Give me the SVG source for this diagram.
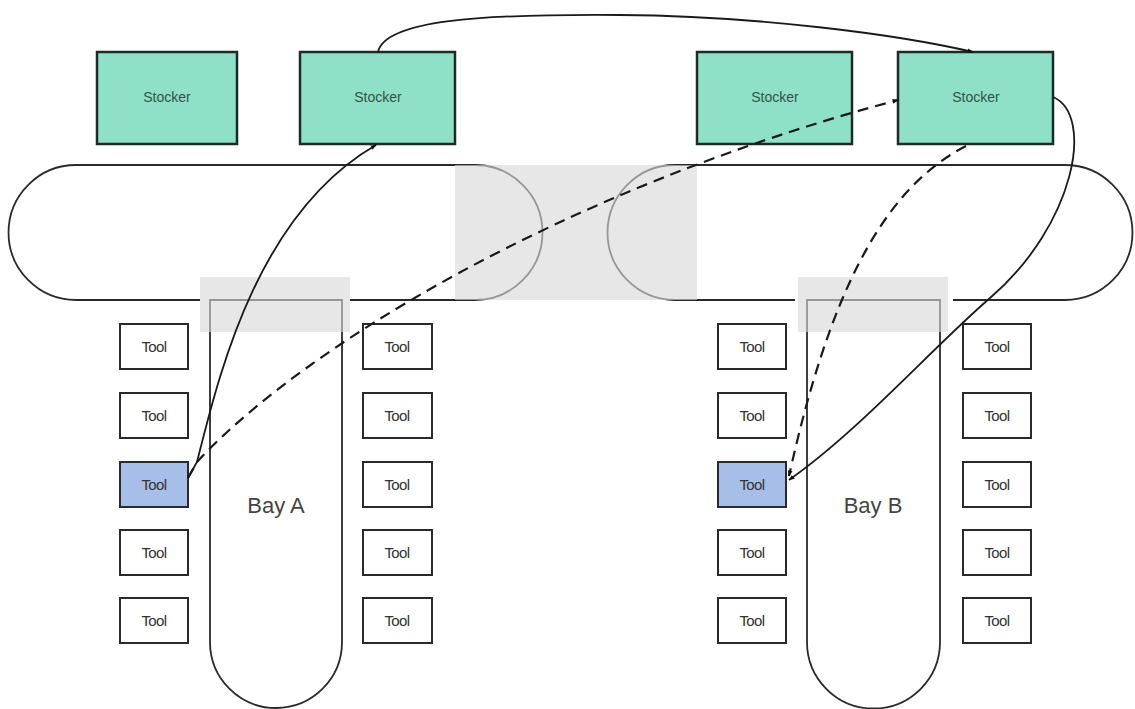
<svg xmlns="http://www.w3.org/2000/svg" width="1135" height="709" viewBox="0 0 1135 709">
<defs>
<style>
.loop{fill:none;stroke:#2a2a2a;stroke-width:1.8}
.grey{fill:#d8d8d8;fill-opacity:0.62}
.stk{fill:#8ee0c6;stroke:#1d2b26;stroke-width:2.5}
.stkt{font-family:"Liberation Sans",Arial,sans-serif;font-size:14px;fill:#2e5548;text-anchor:middle}
.tool{fill:#ffffff;stroke:#2a2a2a;stroke-width:2}
.hl{fill:#a7bfe8}
.toolt{font-family:"Liberation Sans",Arial,sans-serif;font-size:15px;fill:#333;text-anchor:middle;letter-spacing:-0.6px}
.bay{font-family:"Liberation Sans",Arial,sans-serif;font-size:22px;fill:#444;text-anchor:middle}
.c{fill:none;stroke:#1a1a1a;stroke-width:1.8}
.d{fill:none;stroke:#1a1a1a;stroke-width:2.2;stroke-dasharray:11 7}
</style>
<marker id="ah" viewBox="0 0 10 10" refX="9" refY="5" markerWidth="6" markerHeight="6" orient="auto" markerUnits="userSpaceOnUse">
<path d="M0,1 L10,5 L0,9 Z" fill="#111"/>
</marker>
</defs>
<rect width="1135" height="709" fill="#fff"/>

<g id="loop-left">
<path class="loop" d="M475,165 L76,165 A67.5,67.5 0 0 0 76,300 L200,300 M350,300 L475,300 A67.5,67.5 0 0 0 475,165"/>
</g>
<g id="loop-right">
<path class="loop" d="M675,165 L1065,165 A67.5,67.5 0 0 1 1065,300 L953,300 M795,300 L675,300 A67.5,67.5 0 0 1 675,165"/>
</g>
<g id="bay-a">
<path class="loop" d="M210,300 L210,642 A66,66 0 0 0 342,642 L342,300 Z" fill="#fff"/>
<text class="bay" x="276" y="513">Bay A</text>
</g>
<g id="bay-b">
<path class="loop" d="M807,300 L807,642 A66.5,66.5 0 0 0 940,642 L940,300 Z" fill="#fff"/>
<text class="bay" x="873" y="513">Bay B</text>
</g>
<g id="grey-zones">
<rect class="grey" x="455" y="165" width="242" height="135"/>
<rect class="grey" x="200" y="277" width="150" height="55"/>
<rect class="grey" x="798" y="277" width="150" height="55"/>
</g>

<g id="stocker-1"><rect class="stk" x="97" y="52" width="140" height="92"/><text class="stkt" x="167" y="102">Stocker</text></g>
<g id="stocker-2"><rect class="stk" x="300" y="52" width="155" height="92"/><text class="stkt" x="378" y="102">Stocker</text></g>
<g id="stocker-3"><rect class="stk" x="697" y="52" width="155" height="92"/><text class="stkt" x="775" y="102">Stocker</text></g>
<g id="stocker-4"><rect class="stk" x="898" y="52" width="155" height="92"/><text class="stkt" x="976" y="102">Stocker</text></g>

<g id="tools-a-left">
<rect class="tool" x="120" y="324" width="68" height="45"/><text class="toolt" x="154" y="352">Tool</text>
<rect class="tool" x="120" y="393" width="68" height="45"/><text class="toolt" x="154" y="421">Tool</text>
<rect class="tool hl" x="120" y="462" width="68" height="45"/><text class="toolt" x="154" y="490">Tool</text>
<rect class="tool" x="120" y="530" width="68" height="45"/><text class="toolt" x="154" y="558">Tool</text>
<rect class="tool" x="120" y="598" width="68" height="45"/><text class="toolt" x="154" y="626">Tool</text>
</g>
<g id="tools-a-right">
<rect class="tool" x="363" y="324" width="69" height="45"/><text class="toolt" x="397" y="352">Tool</text>
<rect class="tool" x="363" y="393" width="69" height="45"/><text class="toolt" x="397" y="421">Tool</text>
<rect class="tool" x="363" y="462" width="69" height="45"/><text class="toolt" x="397" y="490">Tool</text>
<rect class="tool" x="363" y="530" width="69" height="45"/><text class="toolt" x="397" y="558">Tool</text>
<rect class="tool" x="363" y="598" width="69" height="45"/><text class="toolt" x="397" y="626">Tool</text>
</g>
<g id="tools-b-left">
<rect class="tool" x="718" y="324" width="68" height="45"/><text class="toolt" x="752" y="352">Tool</text>
<rect class="tool" x="718" y="393" width="68" height="45"/><text class="toolt" x="752" y="421">Tool</text>
<rect class="tool hl" x="718" y="462" width="68" height="45"/><text class="toolt" x="752" y="490">Tool</text>
<rect class="tool" x="718" y="530" width="68" height="45"/><text class="toolt" x="752" y="558">Tool</text>
<rect class="tool" x="718" y="598" width="68" height="45"/><text class="toolt" x="752" y="626">Tool</text>
</g>
<g id="tools-b-right">
<rect class="tool" x="963" y="324" width="68" height="45"/><text class="toolt" x="997" y="352">Tool</text>
<rect class="tool" x="963" y="393" width="68" height="45"/><text class="toolt" x="997" y="421">Tool</text>
<rect class="tool" x="963" y="462" width="68" height="45"/><text class="toolt" x="997" y="490">Tool</text>
<rect class="tool" x="963" y="530" width="68" height="45"/><text class="toolt" x="997" y="558">Tool</text>
<rect class="tool" x="963" y="598" width="68" height="45"/><text class="toolt" x="997" y="626">Tool</text>
</g>

<g id="connectors">
<path class="c" d="M378,52 C385,20 480,14 620,15 C760,16 900,35 973,52" marker-end="url(#ah)"/>
<path class="c" d="M188,478 L197,462 C218,380 255,215 376,145" marker-end="url(#ah)"/>
<path class="d" d="M188,478 L197,462 C300,350 560,190 898,100" marker-end="url(#ah)"/>
<path class="c" d="M1053,97 C1095,115 1075,225 990,298 C930,350 860,430 789,480" marker-end="url(#ah)"/>
<path class="d" d="M966,146 C880,190 828,300 789,476" marker-end="url(#ah)"/>
</g>
</svg>
